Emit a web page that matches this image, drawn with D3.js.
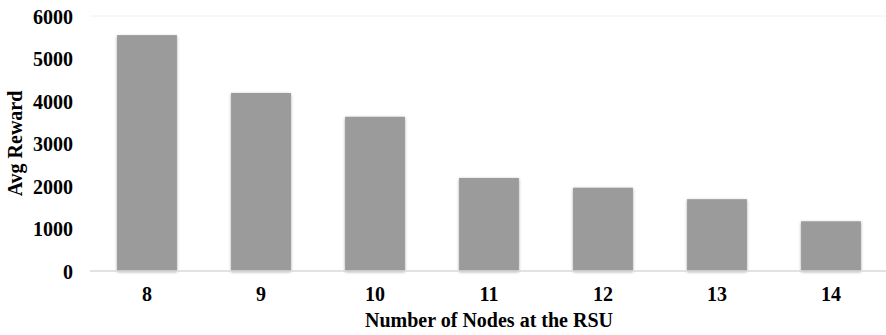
<!DOCTYPE html>
<html>
<head>
<meta charset="utf-8">
<script src="https://cdn.jsdelivr.net/npm/d3@7"></script>
<style>
  html, body { margin: 0; padding: 0; background: #fff; }
  svg { display: block; }
  text { font-family: "Liberation Serif", "Times New Roman", serif; font-weight: bold; fill: #000; }
</style>
</head>
<body>
<svg id="chart" width="886" height="335"></svg>
<script>
// Average reward per number of nodes at the RSU
const categories = ["8", "9", "10", "11", "12", "13", "14"];
const rewards = [5550, 4190, 3630, 2190, 1960, 1690, 1170];
const yTicks = [0, 1000, 2000, 3000, 4000, 5000, 6000];

const W = 886, H = 335;
const margin = { top: 16, right: -2, bottom: 64, left: 90 };
const svg = d3.select("#chart");

const defs = svg.append("defs");
const shadow = defs.append("filter").attr("id", "barShadow")
  .attr("x", "-20%").attr("y", "-10%").attr("width", "140%").attr("height", "120%");
shadow.append("feGaussianBlur").attr("in", "SourceAlpha").attr("stdDeviation", 1.6).attr("result", "blur");
shadow.append("feOffset").attr("in", "blur").attr("dx", 0).attr("dy", 1).attr("result", "off");
shadow.append("feComponentTransfer").attr("in", "off").attr("result", "soft")
  .append("feFuncA").attr("type", "linear").attr("slope", 0.35);
const merge = shadow.append("feMerge");
merge.append("feMergeNode").attr("in", "soft");
merge.append("feMergeNode").attr("in", "SourceGraphic");

const x = d3.scaleBand()
  .domain(categories)
  .range([margin.left, W - margin.right])
  .paddingInner(0.475)
  .paddingOuter(0.2375);

const y = d3.scaleLinear()
  .domain([0, 6000])
  .range([H - margin.bottom, margin.top]);

// top gridline
svg.append("line")
  .attr("x1", margin.left).attr("x2", W)
  .attr("y1", y(6000)).attr("y2", y(6000))
  .attr("stroke", "#f0f0f0").attr("stroke-width", 1);

// bars
svg.append("g").selectAll("rect")
  .data(categories.map((c, i) => ({ c, v: rewards[i] })))
  .join("rect")
  .attr("x", d => x(d.c))
  .attr("y", d => y(d.v))
  .attr("width", x.bandwidth())
  .attr("height", d => y(0) - y(d.v))
  .attr("fill", "#9b9b9b")
  .attr("filter", "url(#barShadow)");

// baseline
svg.append("line")
  .attr("x1", margin.left).attr("x2", W)
  .attr("y1", y(0)).attr("y2", y(0))
  .attr("stroke", "#d9d9d9").attr("stroke-width", 1.5);

// y axis labels
const yAxis = d3.axisLeft(y).tickValues(yTicks).tickSize(0).tickPadding(0).tickFormat(d3.format("d"));
const gy = svg.append("g").attr("transform", `translate(73,0)`).call(yAxis);
gy.select(".domain").remove();
gy.selectAll("text").attr("font-size", 20).attr("font-family", null).attr("dy", "0.35em");

// x axis labels
const xAxis = d3.axisBottom(x).tickSize(0).tickPadding(0);
const gx = svg.append("g").attr("transform", `translate(0,${y(0) + 16})`).call(xAxis);
gx.select(".domain").remove();
gx.selectAll("text").attr("font-size", 20).attr("font-family", null).attr("dy", "0.7em");

// axis titles
svg.append("text")
  .attr("x", (margin.left + W - margin.right) / 2)
  .attr("y", 327)
  .attr("text-anchor", "middle")
  .attr("font-size", 20)
  .text("Number of Nodes at the RSU");

svg.append("text")
  .attr("transform", `translate(22,143.5) rotate(-90)`)
  .attr("text-anchor", "middle")
  .attr("font-size", 20)
  .text("Avg Reward");
</script>
</body>
</html>
